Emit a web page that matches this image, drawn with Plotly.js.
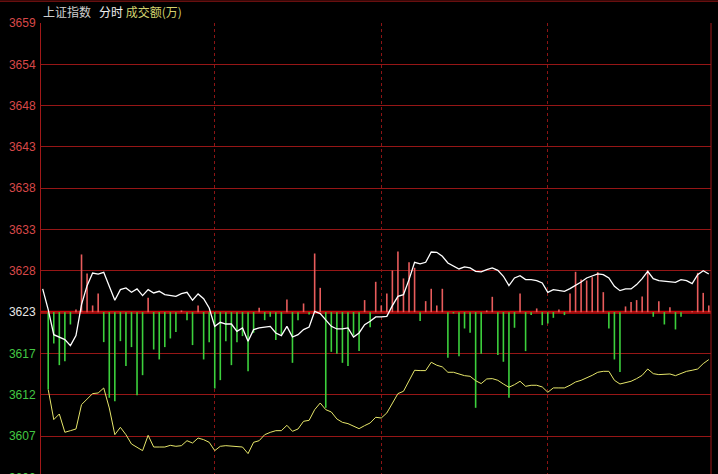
<!DOCTYPE html>
<html>
<head>
<meta charset="utf-8">
<script src="https://cdn.plot.ly/plotly-3.0.1.min.js"></script>
<style>
html,body{margin:0;padding:0;background:#000;overflow:hidden;width:718px;height:474px;}
#chart{width:718px;height:500px;}
</style>
</head>
<body>
<div id="chart"></div>
<script>
// ---- data ----
const prevClose = 3623.15;
const gridStep = 5.15;
const yTickLabels = ['3602','3607','3612','3617','3623','3628','3633','3638','3643','3648','3654','3659'];
// white line: weighted index, one value every 2 minutes, first value is the open
const whiteLine = [3626.04,
 3623.46,3620.34,3620.05,3619.72,3618.97,3620.22,3624.09,3626.45,3628.03,3627.90,
 3628.12,3626.37,3624.63,3625.96,3626.16,3625.62,3626.04,3625.21,3625.96,3625.54,
 3625.75,3625.33,3625.25,3625.12,3625.46,3625.62,3624.63,3625.42,3624.83,3623.67,
 3621.38,3621.88,3621.67,3621.67,3620.76,3621.18,3619.51,3620.97,3621.18,3621.26,
 3621.38,3620.55,3620.22,3621.38,3620.05,3620.34,3620.97,3621.30,3623.25,3622.96,
 3622.22,3621.38,3621.05,3621.05,3621.18,3620.05,3620.55,3621.59,3622.01,3622.55,
 3622.55,3622.63,3623.96,3625.12,3625.33,3627.20,3629.36,3629.16,3629.36,3630.65,
 3630.61,3630.11,3629.28,3628.86,3628.53,3628.78,3628.66,3628.24,3628.16,3628.45,
 3628.66,3628.36,3627.62,3626.45,3627.41,3627.70,3627.20,3627.20,3627.08,3626.79,
 3625.62,3625.96,3625.83,3625.75,3626.08,3626.45,3626.91,3627.41,3627.62,3627.91,
 3627.83,3627.41,3626.37,3625.83,3626.04,3626.04,3626.58,3627.33,3628.24,3627.33,
 3627.08,3627.00,3626.91,3626.87,3627.20,3627.08,3626.70,3627.83,3628.32,3627.91];
// yellow line: unweighted index
const yellowLine = [
 3613.49,3609.75,3610.45,3608.17,3608.37,3608.58,3611.62,3612.36,3612.99,3613.07,
 3613.69,3611.20,3607.87,3608.79,3607.87,3606.71,3606.29,3605.88,3607.79,3606.33,
 3606.33,3606.33,3606.54,3606.42,3606.50,3607.12,3606.83,3607.45,3607.25,3606.92,
 3605.88,3606.42,3606.50,3606.42,3606.38,3606.33,3605.51,3606.92,3607.12,3607.87,
 3608.16,3608.37,3608.37,3609.04,3608.29,3608.58,3609.54,3609.66,3610.99,3611.82,
 3610.99,3610.70,3609.83,3609.41,3609.25,3608.92,3608.62,3609.00,3609.33,3610.04,
 3609.95,3610.58,3611.82,3612.99,3613.28,3614.53,3615.90,3615.86,3615.86,3616.90,
 3616.53,3616.32,3615.65,3615.65,3615.44,3615.23,3615.15,3614.60,3614.24,3614.82,
 3614.86,3614.65,3614.19,3613.78,3614.11,3614.53,3613.90,3614.03,3614.03,3613.82,
 3613.16,3613.70,3613.70,3613.70,3614.03,3614.44,3614.65,3614.94,3615.27,3615.65,
 3615.77,3615.77,3614.65,3614.19,3614.32,3614.53,3614.86,3615.27,3616.06,3615.48,
 3615.36,3615.44,3615.44,3615.23,3615.48,3615.77,3615.90,3616.06,3616.73,3617.23];
// red / green bars (offset from the previous close)
const barValues = [
 -9.64,-3.91,-6.61,-6.11,-1.54,0.33,7.19,4.82,0.83,2.33,
 -3.74,-10.68,-11.10,-3.62,-6.73,-4.36,-10.35,-7.86,1.79,-4.66,
 -5.90,-4.36,-3.28,-2.49,0.21,-1.00,-4.11,0.83,-5.90,-3.74,
 -9.52,-8.48,-3.62,-6.61,-3.74,-2.99,-7.36,-2.58,0.54,-1.00,
 -0.58,-3.49,-2.78,1.58,-6.32,-1.00,1.08,-0.29,7.31,3.03,
 -11.93,-4.95,-5.20,-6.32,-6.73,-2.91,-4.86,1.50,-1.87,3.78,
 0.83,2.33,5.20,7.56,4.20,6.23,5.53,-1.12,1.37,2.91,
 0.83,2.91,-5.69,-0.17,-5.49,-2.04,-2.58,-11.93,-5.20,0.21,
 1.91,-5.36,-6.19,-10.68,-1.95,2.33,-4.86,-0.37,0.46,-1.62,
 -1.41,-0.71,0.33,-0.37,2.33,5.03,4.07,3.95,4.36,4.99,
 2.49,-2.04,-5.90,-7.48,0.71,1.25,1.50,1.95,5.20,-0.58,
 1.37,-1.54,0.62,-2.16,-0.58,0.00,0.10,4.90,2.40,0.83];

// ---- build ----
const yelX = yellowLine.map((v,i)=>i);
const whiteX = whiteLine.map((v,i)=>i-1);
const UP='#e85c5c', DOWN='#3cd03c';

function barSegments(sign){
  const xs=[], ys=[];
  barValues.forEach((v,i)=>{
    if((sign>0 && v>0) || (sign<0 && v<0)){
      xs.push(i,i,null); ys.push(prevClose, prevClose+v, null);
    }
  });
  return {xs, ys};
}
const upSeg = barSegments(1), downSeg = barSegments(-1);

const tickVals = yTickLabels.map((t,i)=>prevClose + (i-4)*gridStep);
const tickText = yTickLabels.map((t,i)=>{
  const col = i<4 ? '#43c843' : (i===4 ? '#e6e6e6' : '#d84848');
  return '<span style="color:'+col+'">'+t+'</span>';
});

const traces = [
  {type:'scatter', mode:'lines', x:upSeg.xs, y:upSeg.ys, connectgaps:false,
   line:{color:UP, width:1.6}, hoverinfo:'skip', showlegend:false},
  {type:'scatter', mode:'lines', x:downSeg.xs, y:downSeg.ys, connectgaps:false,
   line:{color:DOWN, width:1.6}, hoverinfo:'skip', showlegend:false},
  {type:'scatter', mode:'lines', x:yelX, y:yellowLine,
   line:{color:'#e6e66a', width:1}, hoverinfo:'skip', showlegend:false},
  {type:'scatter', mode:'lines', x:whiteX, y:whiteLine,
   line:{color:'#ffffff', width:1.3}, hoverinfo:'skip', showlegend:false}
];

const layout = {
  width:718, height:500,
  margin:{l:41, r:7, t:23, b:2, pad:0},
  paper_bgcolor:'#000', plot_bgcolor:'#000',
  showlegend:false,
  title:{
    text:'<span style="color:#cfcfcf">上证指数</span>&nbsp;&nbsp;&nbsp;<span style="color:#f0f0f0">分时</span>&nbsp;<span style="color:#d2d26e">成交额(万)</span>',
    x:43/718, xanchor:'left', xref:'container',
    y:1-12.5/500, yanchor:'middle', yref:'container',
    font:{family:'"Noto Sans CJK SC", sans-serif', size:12, color:'#cfcfcf'}
  },
  xaxis:{
    range:[-1.3, 119.4], fixedrange:true,
    showgrid:true, tickvals:[30,60,90], gridcolor:'#8c1414', griddash:'dot', gridwidth:1,
    showticklabels:false, ticks:'', zeroline:false,
    showline:false
  },
  yaxis:{
    range:[prevClose-4.5*gridStep, prevClose+7*gridStep], fixedrange:true,
    tickvals:tickVals, ticktext:tickText, ticks:'', ticklabelstandoff:2,
    tickfont:{family:'"Liberation Sans", Arial, sans-serif', size:12},
    showgrid:true, gridcolor:'#961616', gridwidth:1, zeroline:false,
    showline:true, linecolor:'#a01818', linewidth:1
  },
  shapes:[
    {type:'line', xref:'paper', yref:'y', x0:0, x1:1, y0:prevClose, y1:prevClose,
     line:{color:'#cc0a0a', width:3}, layer:'below'},
    {type:'line', xref:'paper', yref:'paper', x0:1, x1:1, y0:0, y1:1,
     line:{color:'#a01818', width:1}, layer:'above'},
    {type:'line', xref:'paper', yref:'paper', x0:-0.07, x1:1.02, y0:1.046, y1:1.046,
     line:{color:'#a01818', width:1}, layer:'above'}
  ]
};

Plotly.newPlot('chart', traces, layout, {staticPlot:true, displayModeBar:false});
</script>
</body>
</html>
